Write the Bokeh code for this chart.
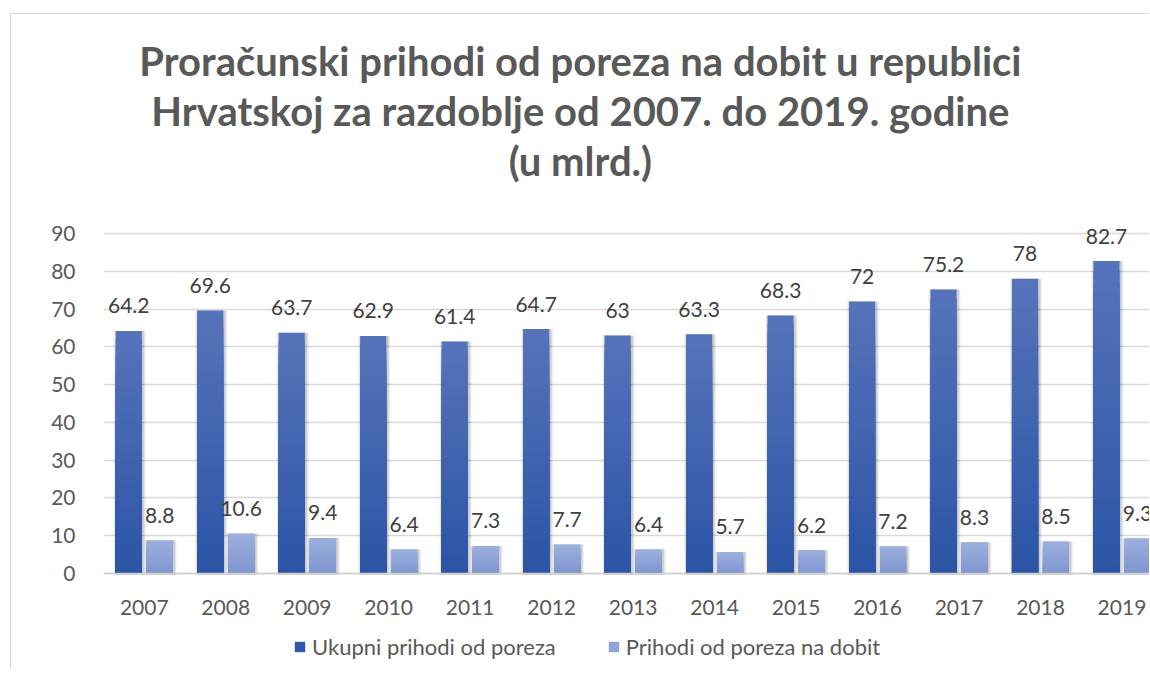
import numpy as np
from bokeh.plotting import figure
from bokeh.models import (ColumnDataSource, Range1d, LabelSet, Label, Legend, LegendItem,
                          FixedTicker)
from bokeh.core.properties import value
from bokeh.embed import file_html
from bokeh.resources import INLINE

# ---- data ----
years = [2007, 2008, 2009, 2010, 2011, 2012, 2013, 2014, 2015, 2016, 2017, 2018, 2019]
ukupni = [64.2, 69.6, 63.7, 62.9, 61.4, 64.7, 63.0, 63.3, 68.3, 72.0, 75.2, 78.0, 82.7]
dobit = [8.8, 10.6, 9.4, 6.4, 7.3, 7.7, 6.4, 5.7, 6.2, 7.2, 8.3, 8.5, 9.3]
series_names = ["Ukupni prihodi od poreza", "Prihodi od poreza na dobit"]
y_ticks = [0, 10, 20, 30, 40, 50, 60, 70, 80, 90]
title_lines = ["Proračunski prihodi od poreza na dobit u republici",
               "Hrvatskoj za razdoblje od 2007. do 2019. godine",
               "(u mlrd.)"]

FONT = "Lato"
ML, MT = 10, 13                 # figure offset on the page (chart border position)
BORDER = 1                      # css border width
W, H = 1150 - ML - BORDER, 670 - MT - BORDER
PX = 340 / 90.0                 # pixels per unit on the value axis
ZERO_PX = 573 - MT - BORDER     # canvas row of the value 0
y_lo = -(H - ZERO_PX) / PX
y_hi = ZERO_PX / PX
FRAME_L = 103 - ML - BORDER

p = figure(width=W, height=H, output_backend="svg", toolbar_location=None,
           x_range=Range1d(2006.5, 2019.35), y_range=Range1d(y_lo, y_hi),
           min_border_left=FRAME_L, min_border_right=0, min_border_top=0, min_border_bottom=0)
p.margin = (MT, 0, 0, ML)
p.styles = {"border-left": "1px solid #d9d9d9", "border-top": "1px solid #d9d9d9"}
p.title.visible = False
p.outline_line_color = None
p.background_fill_color = "white"
p.border_fill_color = "white"

# grid / axes
p.xgrid.grid_line_color = None
p.ygrid.grid_line_color = "#d9d9d9"
p.ygrid.grid_line_width = 1.3
p.yaxis.ticker = FixedTicker(ticks=y_ticks)
p.xaxis.ticker = FixedTicker(ticks=years)
p.xaxis.fixed_location = 0
for ax in (p.xaxis[0], p.yaxis[0]):
    ax.major_tick_line_color = None
    ax.minor_tick_line_color = None
    ax.major_label_text_font = FONT
    ax.major_label_text_font_size = "21px"
    ax.major_label_text_color = "#595959"
p.yaxis.axis_line_color = None
p.yaxis.major_label_standoff = 22
p.xaxis.axis_line_color = "#d0d0d0"
p.xaxis.axis_line_width = 1.5
p.xaxis.major_label_standoff = 20

BW = 0.32
OFF = 0.19
N = 30

def hexcol(c):
    return "#%02x%02x%02x" % tuple(int(round(v)) for v in c)

def grad(bottom, top, n):
    b = np.array([int(bottom[i:i + 2], 16) for i in (1, 3, 5)], float)
    t = np.array([int(top[i:i + 2], 16) for i in (1, 3, 5)], float)
    return [hexcol(b + (t - b) * (k + 0.5) / n) for k in range(n)]

def draw_series(vals, offset, cbot, ctop):
    xs = [y + offset for y in years]
    # soft shadow
    for extra, alpha in ((0.075, 0.05), (0.05, 0.07), (0.025, 0.09)):
        p.vbar(x=[x + 0.012 for x in xs], top=vals, bottom=-0.3, width=BW + extra,
               color="black", alpha=alpha, line_color=None)
    cols = grad(cbot, ctop, N)
    # vertical gradient: overlapping bars, tallest (top colour) first
    for k in range(N - 1, -1, -1):
        src = ColumnDataSource(dict(x=xs, top=[v * (k + 1) / N for v in vals]))
        p.vbar(x="x", bottom=0, top="top", width=BW, source=src,
               fill_color=cols[k], line_color=None)
    lab_src = ColumnDataSource(dict(x=xs, y=vals, t=[f"{v:g}" for v in vals]))
    p.add_layout(LabelSet(x="x", y="y", text="t", source=lab_src, text_align="center",
                          text_baseline="middle", y_offset=25, text_font=value(FONT),
                          text_font_size=value("21px"), text_color="#404040"))

draw_series(ukupni, -OFF, "#2b54a6", "#5674ba")
draw_series(dobit, OFF, "#7f96cf", "#9cb0de")

# legend swatches (solid colours, drawn off-screen)
l1 = p.vbar(x=[years[0]], bottom=[-200], top=[-199], width=0.1, fill_color="#2f58a9",
            line_color=None)
l2 = p.vbar(x=[years[0]], bottom=[-200], top=[-199], width=0.1, fill_color="#8ea4d8",
            line_color=None)
legend = Legend(items=[LegendItem(label=series_names[0], renderers=[l1]),
                       LegendItem(label=series_names[1], renderers=[l2])],
                orientation="horizontal", location=(293 - 103, 10),
                glyph_width=13, glyph_height=13, label_standoff=6, spacing=51,
                padding=0, margin=0, border_line_color=None, background_fill_alpha=0,
                label_text_font=FONT, label_text_font_size="22px",
                label_text_color="#595959")
p.add_layout(legend, "center")

# title (three centred lines)
title_rows = [60, 110, 160]     # page rows of the line centres
for txt, row in zip(title_lines, title_rows):
    p.add_layout(Label(x=2006.5 + (580 - 103) / 81.5, y=(573 - row) / PX, text=txt,
                       text_align="center", text_baseline="middle",
                       text_font=FONT, text_font_style="bold", text_font_size="40px",
                       text_color="#595959"))

open("out.html", "w").write(file_html(p, INLINE))
